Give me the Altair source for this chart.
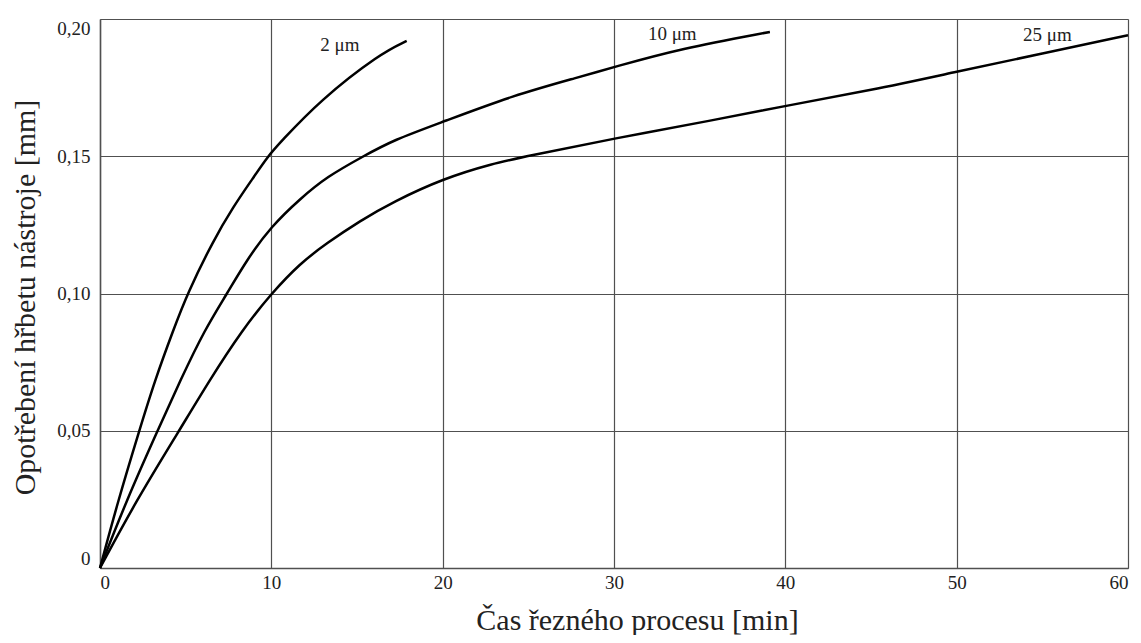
import altair as alt
import pandas as pd

# series
x_2um = [0, 1.07, 2.29, 3.21, 4.28, 5.1, 6.62, 7.78, 8.85, 9.8, 10.5, 12.84, 16.35, 17.9]
y_2um = [0, 0.0248, 0.050, 0.0685, 0.0867, 0.100, 0.1194, 0.1316, 0.1413, 0.150, 0.1549, 0.1704, 0.1874, 0.192]

x_10um = [0, 1.56, 3.36, 4.7, 6.1, 7.42, 8.56, 10.0, 11.68, 13.23, 15.37, 17.12, 20.0, 24.13, 28.0, 30.0, 33.86, 39.1]
y_10um = [0, 0.0248, 0.050, 0.0685, 0.0867, 0.100, 0.1122, 0.1245, 0.1345, 0.1425, 0.150, 0.1559, 0.1625, 0.1722, 0.1789, 0.1825, 0.1892, 0.1953]

x_25um = [0, 2.14, 4.62, 6.4, 8.3, 10.0, 11.68, 13.23, 15.18, 17.12, 20.0, 22.96, 24.9, 30.0, 35.8, 40.0, 45.0, 50.0, 55.0, 60.0]
y_25um = [0, 0.0248, 0.050, 0.0685, 0.0867, 0.100, 0.111, 0.1183, 0.1265, 0.1334, 0.1418, 0.1474, 0.150, 0.1565, 0.1631, 0.1684, 0.174, 0.1808, 0.1874, 0.1941]

label_text = ["2 μm", "10 μm", "25 μm"]
label_x = [14.0, 33.4, 55.3]
label_y = [0.1905, 0.1945, 0.1940]

x_ticks = [0, 10, 20, 30, 40, 50, 60]
y_ticks = [0, 0.05, 0.10, 0.15, 0.20]

rows = []
for name, xs, ys in [("2", x_2um, y_2um), ("10", x_10um, y_10um), ("25", x_25um, y_25um)]:
    for i, (a, b) in enumerate(zip(xs, ys)):
        rows.append({"series": name, "t": a, "w": b, "order": i})
df = pd.DataFrame(rows)
lab = pd.DataFrame({"text": label_text, "t": label_x, "w": label_y})

SERIF = "Liberation Serif"
GRID = "#505050"

xscale = alt.Scale(domain=[0, 60], nice=False, zero=False)
yscale = alt.Scale(domain=[0, 0.20], nice=False)

xaxis = alt.Axis(
    values=x_ticks, grid=True, gridColor=GRID, gridWidth=1.2, gridOpacity=1,
    domainColor=GRID, domainWidth=1.5, ticks=False,
    labelFont=SERIF, labelFontSize=19, labelColor="#222", labelPadding=5,
    labelFlush=True,
    title="Čas řezného procesu [min]", titleFont=SERIF, titleFontSize=30,
    titleFontWeight="normal", titleColor="#222", titleX=537, titleY=61,
    titleBaseline="alphabetic", titleAlign="center",
)
yaxis = alt.Axis(
    values=y_ticks, grid=True, gridColor=GRID, gridWidth=1.2, gridOpacity=1,
    domainColor=GRID, domainWidth=1.5, ticks=False,
    labelFont=SERIF, labelFontSize=19, labelColor="#222", labelPadding=10,
    labelFlush=True,
    labelExpr="datum.value == 0 ? '0' : replace(format(datum.value, '.2f'), '.', ',')",
    title="Opotřebení hřbetu nástroje [mm]", titleFont=SERIF, titleFontSize=30,
    titleFontWeight="normal", titleColor="#222", titleX=-75, titleY=278,
    titleBaseline="middle", titleAngle=-90,
)

lines = alt.Chart(df).mark_line(color="black", strokeWidth=2.5, interpolate="basis").encode(
    x=alt.X("t:Q", scale=xscale, axis=xaxis),
    y=alt.Y("w:Q", scale=yscale, axis=yaxis),
    detail="series:N",
    order="order:Q",
)

labels = alt.Chart(lab).mark_text(font=SERIF, fontSize=19, color="#222").encode(
    x=alt.X("t:Q", scale=xscale),
    y=alt.Y("w:Q", scale=yscale),
    text="text:N",
)

chart = (lines + labels).properties(
    width=1028, height=549,
    autosize=alt.AutoSizeParams(type="none"),
    padding={"left": 92, "top": 11, "right": 5, "bottom": 67},
).configure_view(stroke=None).configure(background="white")

chart.save("out.html", embed_options={"renderer": "svg", "actions": False})
